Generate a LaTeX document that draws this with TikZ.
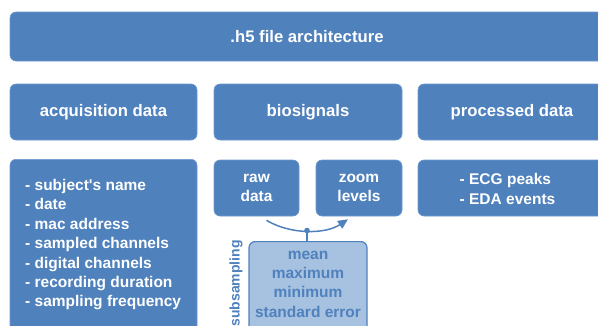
\documentclass[tikz,border=0pt]{standalone}
\usepackage{fontspec}
\setmainfont{Liberation Sans}
\usetikzlibrary{arrows.meta,calc}
\definecolor{boxblue}{RGB}{79,129,189}
\definecolor{boxedge}{RGB}{110,153,204}
\definecolor{lightblue}{RGB}{167,193,224}
\tikzset{
  x=1pt, y=-1pt,
  bluebox/.style={draw=boxedge, line width=0.6pt, fill=boxblue, rounded corners=6pt,
    text=white, font=\fontsize{15.5}{19.4}\selectfont\bfseries, inner sep=0pt,
    align=center},
  headbox/.style={bluebox, font=\fontsize{16.7}{20}\selectfont\bfseries},
  listtext/.style={text=white, font=\fontsize{15.5}{19.4}\selectfont\bfseries,
    align=left, inner sep=0pt},
  subbox/.style={draw=boxblue, line width=1.2pt, fill=lightblue, rounded corners=6pt,
    text=boxblue, font=\fontsize{15.5}{19.4}\selectfont\bfseries, inner sep=0pt,
    align=center},
  flow/.style={draw=boxblue, line width=1.5pt, -{Triangle[length=10pt,width=9pt]}},
}
\begin{document}
\begin{tikzpicture}
\useasboundingbox (0,0) rectangle (598,325);
\begin{scope}
\clip (0,0) rectangle (598,325);
% header
\node[headbox, minimum width=594, minimum height=49] (top) at (307,36.5) {.h5 file architecture};
% group headers
\node[headbox, minimum width=187, minimum height=56] (acq) at (103.5,112) {acquisition data};
\node[headbox, minimum width=188, minimum height=56] (bio) at (308,112) {biosignals};
\node[headbox, minimum width=188, minimum height=56] (proc) at (512,112) {processed data};
% contents
\node[bluebox, minimum width=187, minimum height=180, anchor=north] (acqlist) at (103.5,159) {};
\node[listtext, anchor=north west] (acqtext) at (25,179) {- subject\textquotesingle s name\\- date\\- mac address\\- sampled channels\\- digital channels\\- recording duration\\- sampling frequency};
\node[bluebox, minimum width=85, minimum height=56] (raw) at (256.5,188) {raw\\data};
\node[bluebox, minimum width=86, minimum height=56] (zoom) at (359,188) {zoom\\levels};
\node[bluebox, minimum width=188, minimum height=56] (proclist) at (512,188) {};
\node[listtext] (proctext) at (507.5,189) {- ECG peaks\\- EDA events};
% subsampling
\node[subbox, minimum width=118, minimum height=92, anchor=north] (sub) at (308,241) {};
\node[text=boxblue, font=\fontsize{15.5}{19.4}\selectfont\bfseries, align=center,
  inner sep=0pt] (subtext) at (308,284)
  {mean\\maximum\\minimum\\standard error};
\node[text=boxblue, font=\fontsize{14}{16}\selectfont\bfseries, rotate=90, anchor=east, inner sep=0pt]
  (sublabel) at (236,240) {subsampling};
% connector from raw data to zoom levels
\coordinate (from) at ($(raw.south)+(10,4)$);
\coordinate (to) at ($(zoom.south)+(-11,3)$);
\coordinate (mid) at (307,230.5);
\draw[flow] (from) .. controls (290,234.5) and (325,234.5) .. (to);
\draw[boxblue, line width=1.5pt] (mid) -- (sub.north -| mid);
\fill[boxblue] (mid) circle (2.8);
\end{scope}
\end{tikzpicture}
\end{document}
